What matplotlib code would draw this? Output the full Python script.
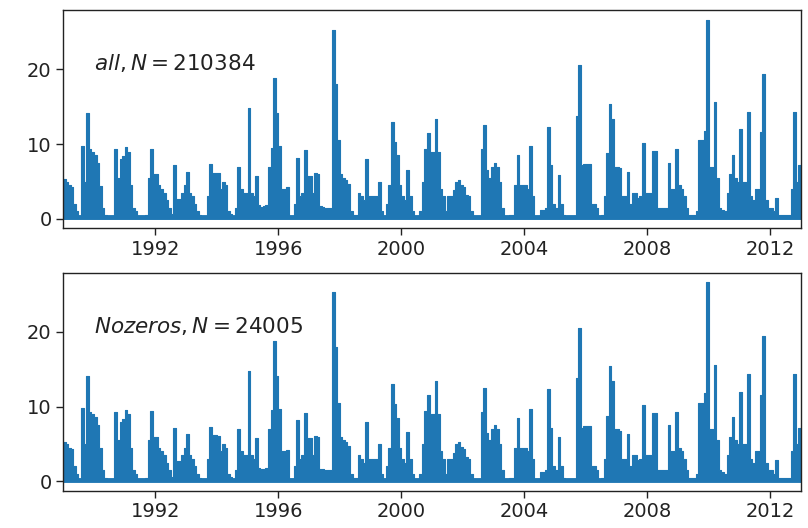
import numpy as np
import pandas as pd
import matplotlib
matplotlib.use("Agg")
import matplotlib.pyplot as plt
import matplotlib.dates as mdates

# Monthly peak values, Jan..Dec for each year
v1989 = [5.3, 5.0, 4.5, 4.3, 2.0, 1.0, 0.3, 9.8, 5.0, 14.1, 9.3, 9.0]
v1990 = [8.6, 7.5, 4.4, 1.5, 0.5, 0.2, 0.2, 0.3, 9.3, 5.5, 8.0, 8.4]
v1991 = [9.6, 9.0, 4.5, 1.5, 1.0, 0.3, 0.3, 0.3, 0.5, 5.5, 9.4, 6.0]
v1992 = [6.0, 4.5, 4.0, 3.5, 2.5, 1.5, 0.6, 7.2, 2.7, 2.7, 3.5, 4.5]
v1993 = [6.3, 3.5, 3.0, 2.0, 1.0, 0.5, 0.3, 0.3, 3.0, 7.3, 6.2, 6.2]
v1994 = [6.1, 4.0, 5.0, 4.5, 1.0, 0.6, 0.2, 1.5, 7.0, 4.0, 3.5, 3.5]
v1995 = [14.8, 3.5, 3.0, 5.8, 1.8, 1.6, 1.7, 1.8, 7.0, 9.5, 18.8, 14.1]
v1996 = [9.7, 4.0, 4.0, 4.2, 0.3, 0.3, 2.0, 8.2, 3.0, 3.5, 9.2, 5.8]
v1997 = [5.8, 3.5, 6.1, 6.0, 1.7, 1.6, 1.5, 1.5, 1.5, 25.3, 18.0, 10.5]
v1998 = [6.0, 5.5, 5.2, 4.7, 1.0, 0.5, 0.5, 3.5, 3.0, 2.5, 8.0, 3.0]
v1999 = [3.0, 3.0, 3.0, 5.0, 1.0, 0.3, 2.0, 4.5, 13.0, 10.3, 8.5, 4.5]
v2000 = [3.0, 2.5, 6.6, 3.0, 1.0, 0.3, 0.3, 1.0, 5.0, 9.4, 11.5, 9.0]
v2001 = [9.0, 13.4, 9.0, 4.0, 3.0, 1.0, 3.0, 3.0, 3.8, 5.0, 5.2, 4.6]
v2002 = [4.3, 3.2, 3.0, 1.0, 0.3, 0.2, 0.3, 9.3, 12.5, 6.5, 5.5, 7.0]
v2003 = [7.5, 7.0, 5.0, 1.5, 0.3, 0.3, 0.5, 0.5, 4.5, 8.5, 4.5, 4.5]
v2004 = [4.5, 4.0, 9.7, 3.0, 0.3, 0.3, 1.2, 1.2, 1.5, 12.3, 7.2, 2.0]
v2005 = [1.5, 5.9, 2.0, 0.5, 0.3, 0.3, 0.3, 0.3, 13.8, 20.5, 7.2, 7.4]
v2006 = [7.4, 7.4, 2.0, 2.0, 1.5, 0.3, 0.5, 3.0, 8.8, 15.4, 13.4, 7.0]
v2007 = [7.0, 6.8, 3.0, 3.0, 6.3, 2.0, 3.5, 3.5, 2.8, 3.0, 10.2, 3.5]
v2008 = [3.5, 3.5, 9.1, 9.1, 1.5, 1.5, 1.5, 1.5, 7.5, 4.0, 4.0, 9.3]
v2009 = [4.5, 4.0, 3.0, 1.5, 0.5, 0.5, 0.5, 1.0, 10.5, 10.5, 11.8, 26.6]
v2010 = [7.0, 7.0, 15.6, 5.5, 1.5, 1.2, 1.0, 3.5, 6.0, 8.6, 5.5, 5.0]
v2011 = [12.0, 5.0, 5.0, 14.3, 3.0, 2.5, 4.0, 4.0, 11.6, 19.4, 2.5, 1.5]
v2012 = [1.5, 1.0, 2.8, 0.5, 0.5, 0.5, 0.5, 0.5, 4.0, 14.3, 5.0, 7.2]

years = [v1989, v1990, v1991, v1992, v1993, v1994, v1995, v1996,
         v1997, v1998, v1999, v2000, v2001, v2002, v2003, v2004,
         v2005, v2006, v2007, v2008, v2009, v2010, v2011, v2012]

labels = [r"$all, N = 210384$", r"$Nozeros, N = 24005$"]
tick_years = [1992, 1996, 2000, 2004, 2008, 2012]

values = np.concatenate([np.array(y, dtype=float) for y in years])
dates = pd.date_range("1989-01-01", periods=len(values) + 1, freq="MS")
vals_ext = np.append(values, values[-1])

color = "#1f77b4"
fig = plt.figure(figsize=(8.08, 5.28), dpi=100)
positions = [[0.0783, 0.5676, 0.913, 0.4134], [0.0783, 0.0706, 0.913, 0.4129]]

for pos, lab in zip(positions, labels):
    ax = fig.add_axes(pos)
    ax.fill_between(dates, 0, vals_ext, step="post", color=color, linewidth=0)
    ax.step(dates, vals_ext, where="post", color=color, linewidth=0.8)
    ax.plot([dates[0], dates[-1]], [0.2, 0.2], color=color, linewidth=3.5,
            solid_capstyle="butt")
    ax.set_xlim(dates[0], dates[-1])
    ax.set_ylim(-1.25, 27.9)
    ax.set_yticks([0, 10, 20])
    ax.xaxis.set_major_locator(mdates.YearLocator(4))
    ax.xaxis.set_major_formatter(mdates.DateFormatter("%Y"))
    ax.xaxis.set_minor_locator(matplotlib.ticker.NullLocator())
    ax.tick_params(labelsize=14, length=4.8, width=1.0, colors="#222222")
    for s in ax.spines.values():
        s.set_linewidth(1.0)
        s.set_color("#222222")
    ax.text(0.042, 0.757, lab, transform=ax.transAxes, fontsize=15.5,
            va="center", ha="left", color="#222222")

fig.savefig("out.png", dpi=100)
